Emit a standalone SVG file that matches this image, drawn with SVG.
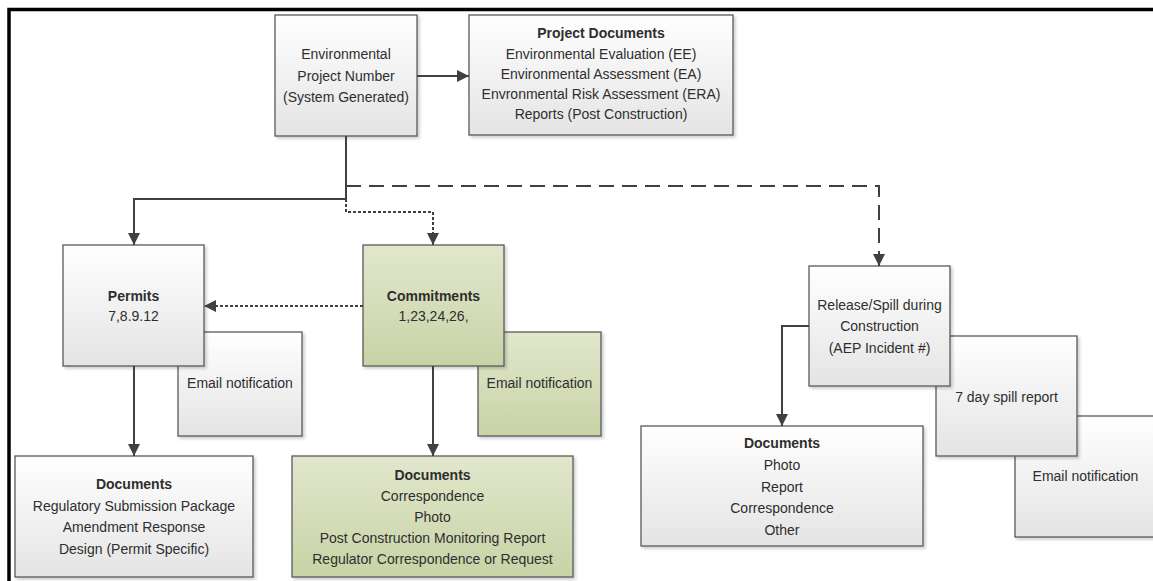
<svg xmlns="http://www.w3.org/2000/svg" width="1153" height="581" viewBox="0 0 1153 581">
<style>
.box{stroke:#595959;stroke-width:1.3;filter:url(#sh)}
.g{fill:url(#gg)}
.gr{fill:url(#gn)}
text{font-family:"Liberation Sans",Arial,sans-serif;font-size:14px;fill:#2e2e2e;text-anchor:middle}
.b{font-weight:bold}
.c{fill:none;stroke:#404040;stroke-width:2}
.dot{stroke-dasharray:3 2}
.dash{stroke-dasharray:15 8}
</style>
<defs>
<linearGradient id="gg" x1="0" y1="0" x2="0" y2="1"><stop offset="0" stop-color="#ffffff"/><stop offset="1" stop-color="#e4e4e4"/></linearGradient>
<linearGradient id="gn" x1="0" y1="0" x2="0" y2="1"><stop offset="0" stop-color="#e1e7cc"/><stop offset="1" stop-color="#c8d3a6"/></linearGradient>
<filter id="sh" x="-10%" y="-10%" width="130%" height="130%"><feDropShadow dx="2" dy="2" stdDeviation="1.5" flood-color="#000" flood-opacity="0.2"/></filter>
<marker id="ah" markerUnits="userSpaceOnUse" markerWidth="13" markerHeight="12" refX="12" refY="6" orient="auto"><path d="M0,0 L12,6 L0,12 z" fill="#404040"/></marker>
</defs>
<path d="M9 581 V9.5 H1153" fill="none" stroke="#000" stroke-width="3.5"/>
<g id="project-number">
<rect class="box g" x="275" y="15" width="142" height="121"/>
<text x="346" y="59">Environmental</text>
<text x="346" y="81">Project Number</text>
<text x="346" y="102">(System Generated)</text>
</g>
<g id="project-documents">
<rect class="box g" x="469" y="15" width="264" height="120"/>
<text class="b" x="601" y="38">Project Documents</text>
<text x="601" y="59">Environmental Evaluation (EE)</text>
<text x="601" y="79">Environmental Assessment (EA)</text>
<text x="601" y="99">Envronmental Risk Assessment (ERA)</text>
<text x="601" y="119">Reports (Post Construction)</text>
</g>
<g id="permits-email">
<rect class="box g" x="178" y="332" width="124" height="104"/>
<text x="240" y="388">Email notification</text>
</g>
<g id="permits">
<rect class="box g" x="63" y="245" width="141" height="121"/>
<text class="b" x="133.5" y="301">Permits</text>
<text x="133.5" y="321">7,8.9.12</text>
</g>
<g id="permits-documents">
<rect class="box g" x="15" y="456" width="238" height="121"/>
<text class="b" x="134" y="489">Documents</text>
<text x="134" y="511">Regulatory Submission Package</text>
<text x="134" y="532">Amendment Response</text>
<text x="134" y="554">Design (Permit Specific)</text>
</g>
<g id="commitments-email">
<rect class="box gr" x="478" y="332" width="123" height="104"/>
<text x="539.5" y="388">Email notification</text>
</g>
<g id="commitments">
<rect class="box gr" x="363" y="245" width="141" height="121"/>
<text class="b" x="433.5" y="301">Commitments</text>
<text x="433.5" y="321">1,23,24,26,</text>
</g>
<g id="commitments-documents">
<rect class="box gr" x="292" y="456" width="281" height="121"/>
<text class="b" x="432.5" y="480">Documents</text>
<text x="432.5" y="501">Correspondence</text>
<text x="432.5" y="522">Photo</text>
<text x="432.5" y="543">Post Construction Monitoring Report</text>
<text x="432.5" y="564">Regulator Correspondence or Request</text>
</g>
<g id="spill-email">
<rect class="box g" x="1015" y="416" width="141" height="121"/>
<text x="1085.5" y="481">Email notification</text>
</g>
<g id="spill-report">
<rect class="box g" x="936" y="336" width="141" height="120"/>
<text x="1006.5" y="402">7 day spill report</text>
</g>
<g id="release-spill">
<rect class="box g" x="809" y="266" width="141" height="120"/>
<text x="879.5" y="310">Release/Spill during</text>
<text x="879.5" y="331">Construction</text>
<text x="879.5" y="353">(AEP Incident #)</text>
</g>
<g id="spill-documents">
<rect class="box g" x="641" y="426" width="282" height="120"/>
<text class="b" x="782" y="448">Documents</text>
<text x="782" y="470">Photo</text>
<text x="782" y="492">Report</text>
<text x="782" y="513">Correspondence</text>
<text x="782" y="535">Other</text>
</g>
<g id="connectors">
<path class="c" d="M417 76 H469" marker-end="url(#ah)"/>
<path class="c" d="M346 136 V199 H134 V245" marker-end="url(#ah)"/>
<path class="c dot" d="M346 199 V212 H433 V245" marker-end="url(#ah)"/>
<path class="c dash" d="M346 186 H879 V266" marker-end="url(#ah)"/>
<path class="c dot" d="M363 306 H204" marker-end="url(#ah)"/>
<path class="c" d="M134 366 V456" marker-end="url(#ah)"/>
<path class="c" d="M433 366 V456" marker-end="url(#ah)"/>
<path class="c" d="M809 326 H782 V426" marker-end="url(#ah)"/>
</g>
</svg>
